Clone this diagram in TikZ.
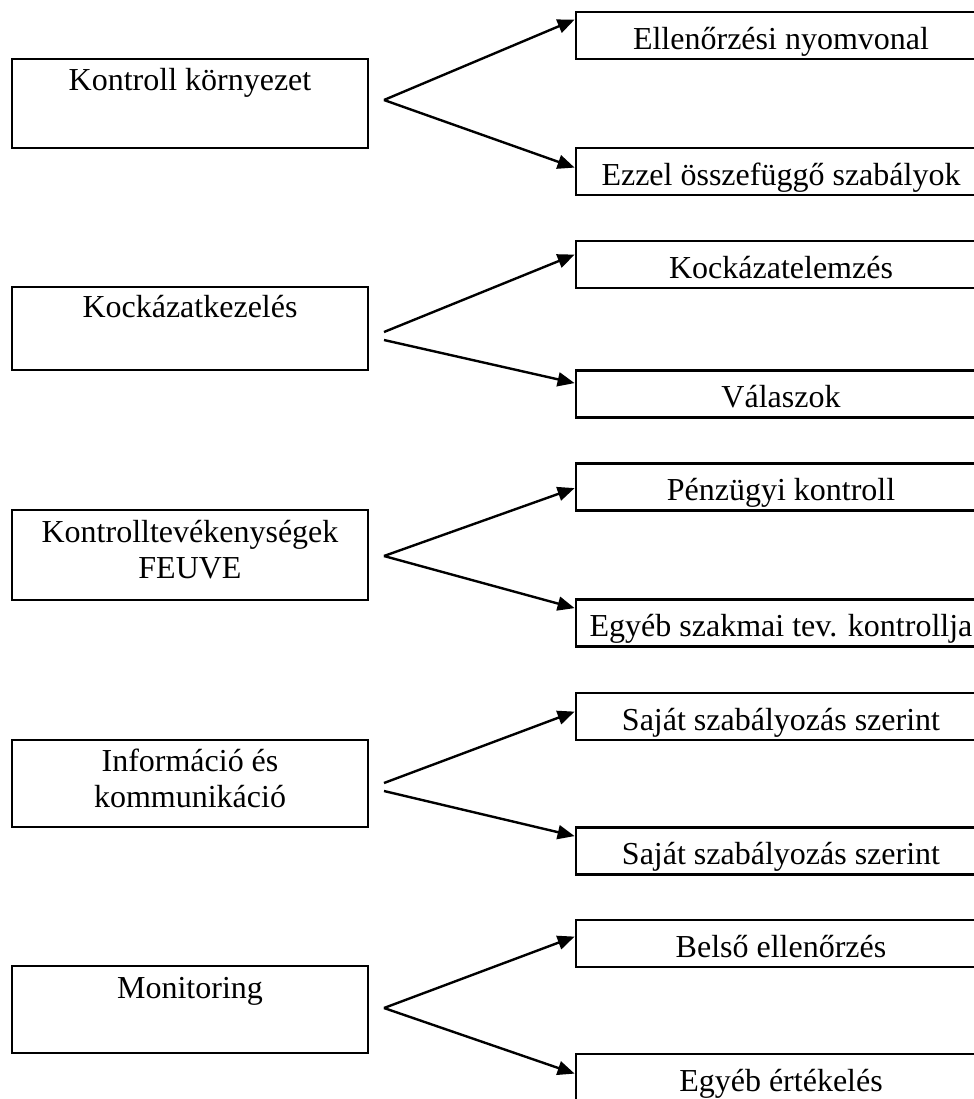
\documentclass[tikz,border=0pt]{standalone}
\usepackage{fontspec}
\setmainfont{Liberation Serif}
\usetikzlibrary{arrows.meta}

\tikzset{
  mainbox/.style={draw,line width=1.4pt,minimum width=178pt,inner xsep=0pt,inner ysep=0pt,text height=15.5pt,text depth=#1},
  subbox/.style={draw,line width=1.4pt,minimum width=205pt,inner xsep=0pt,inner ysep=0pt,text height=18.5pt,text depth=5pt},
  fork/.style={line width=1.2pt,-{Triangle[length=8.5pt,width=7pt]}}
}

\begin{document}
\begin{tikzpicture}[x=0.5pt,y=-0.5pt,font=\fontsize{16}{18}\selectfont]
\clip (0,0) rectangle (974,1099);
% Kontroll kornyezet
\node[mainbox=29pt] (kk) at (190,103.5) {Kontroll környezet};
\node[subbox] (en) at (781,35.5) {Ellenőrzési nyomvonal};
\node[subbox] (esz) at (781,171.5) {Ezzel összefüggő szabályok};
\coordinate (p1) at (384,100); % fork point
\draw[fork] (p1) -- ([yshift=-4.5pt]en.north west);
\draw[fork] (p1) -- ([yshift=-10.5pt]esz.north west);
% Kockazatkezeles
\node[mainbox=26.5pt,text height=15pt] (kkez) at (190,328.5) {Kockázatkezelés};
\node[subbox] (kel) at (781,264.5) {Kockázatelemzés};
\node[subbox] (val) at (781,394) {Válaszok};
\coordinate (p2a) at (384,332); % upper start
\coordinate (p2b) at (384,340); % lower start
\draw[fork] (p2a) -- ([yshift=-7.5pt]kel.north west);
\draw[fork] (p2b) -- ([yshift=-7pt]val.north west);
% Kontrolltevekenysegek
\node[mainbox=29pt,text height=16pt] (ktev) at (190,555) {\begin{tabular}[t]{@{}c@{}}Kontrolltevékenységek\\FEUVE\end{tabular}};
\node[subbox] (pk) at (781,487) {Pénzügyi kontroll};
\node[subbox] (esk) at (781,623) {Egyéb szakmai tev. kontrollja};
\coordinate (p3) at (384,556);
\draw[fork] (p3) -- ([yshift=-13pt]pk.north west);
\draw[fork] (p3) -- ([yshift=-5pt]esk.north west);
% Informacio es kommunikacio
\node[mainbox=28pt] (ik) at (190,783.5) {\begin{tabular}[t]{@{}c@{}}Információ és\\kommunikáció\end{tabular}};
\node[subbox] (ssa) at (781,716.5) {Saját szabályozás szerint};
\node[subbox] (ssb) at (781,851) {Saját szabályozás szerint};
\coordinate (p4a) at (384,783);
\coordinate (p4b) at (384,791);
\draw[fork] (p4a) -- ([yshift=-10pt]ssa.north west);
\draw[fork] (p4b) -- ([yshift=-5pt]ssb.north west);
% Monitoring
\node[mainbox=27.5pt,text height=16pt] (mon) at (190,1009.5) {Monitoring};
\node[subbox] (be) at (781,943.5) {Belső ellenőrzés};
\node[subbox] (eer) at (781,1077.5) {Egyéb értékelés};
\coordinate (p5) at (384,1008);
\draw[fork] (p5) -- ([yshift=-9pt]be.north west);
\draw[fork] (p5) -- ([yshift=-10.5pt]eer.north west);
\end{tikzpicture}
\end{document}
